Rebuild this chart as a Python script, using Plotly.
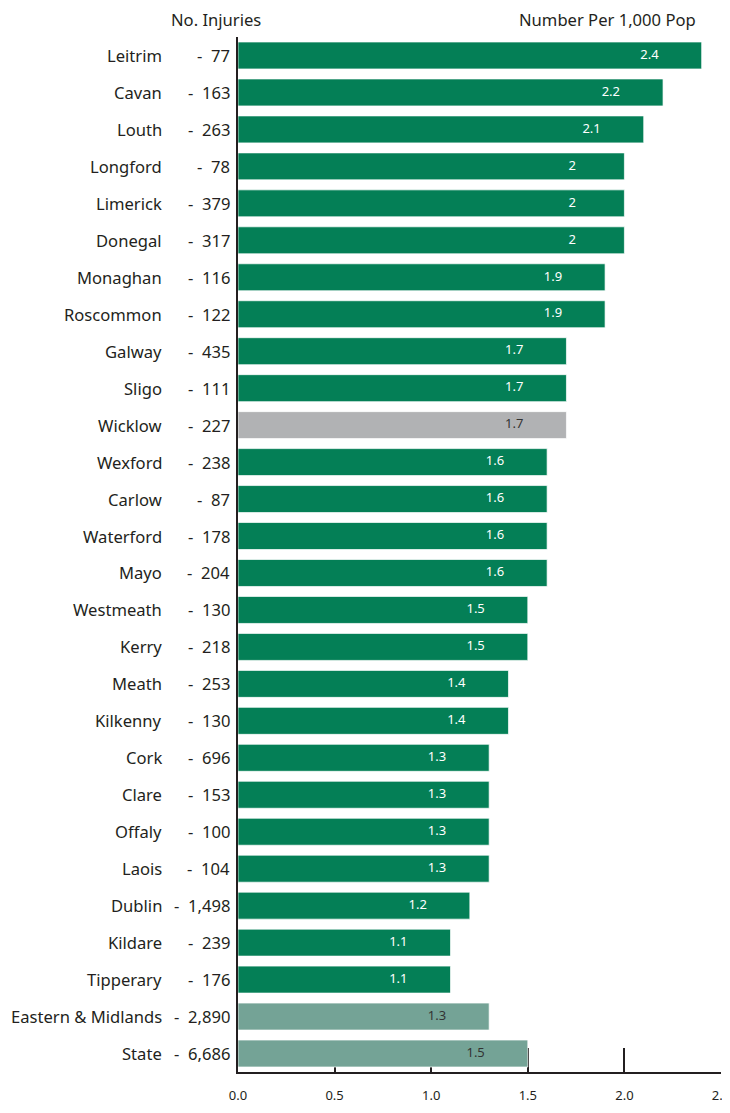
import plotly.graph_objects as go

counties = ["Leitrim", "Cavan", "Louth", "Longford", "Limerick", "Donegal", "Monaghan",
            "Roscommon", "Galway", "Sligo", "Wicklow", "Wexford", "Carlow", "Waterford",
            "Mayo", "Westmeath", "Kerry", "Meath", "Kilkenny", "Cork", "Clare", "Offaly",
            "Laois", "Dublin", "Kildare", "Tipperary", "Eastern & Midlands", "State"]
injuries = ["77", "163", "263", "78", "379", "317", "116", "122", "435", "111", "227",
            "238", "87", "178", "204", "130", "218", "253", "130", "696", "153", "100",
            "104", "1,498", "239", "176", "2,890", "6,686"]
rate = [2.4, 2.2, 2.1, 2.0, 2.0, 2.0, 1.9, 1.9, 1.7, 1.7, 1.7, 1.6, 1.6, 1.6, 1.6,
        1.5, 1.5, 1.4, 1.4, 1.3, 1.3, 1.3, 1.3, 1.2, 1.1, 1.1, 1.3, 1.5]
rate_labels = ["2.4", "2.2", "2.1", "2", "2", "2", "1.9", "1.9", "1.7", "1.7", "1.7",
               "1.6", "1.6", "1.6", "1.6", "1.5", "1.5", "1.4", "1.4", "1.3", "1.3",
               "1.3", "1.3", "1.2", "1.1", "1.1", "1.3", "1.5"]
x_ticks = [0, 0.5, 1.0, 1.5, 2.0, 2.5]
x_tick_text = ["0.0", "0.5", "1.0", "1.5", "2.0", "2.5"]

GREEN = "#047F56"
GREY = "#B1B2B4"
TEAL = "#74A396"
TXT = "#231F20"
FONT = "Noto Sans"

colors, lab_colors = [], []
for c in counties:
    if c == "Wicklow":
        colors.append(GREY); lab_colors.append("#333333")
    elif c in ("Eastern & Midlands", "State"):
        colors.append(TEAL); lab_colors.append("#333333")
    else:
        colors.append(GREEN); lab_colors.append("white")

fig = go.Figure()
fig.add_trace(go.Bar(
    y=counties, x=rate, orientation="h",
    marker=dict(color=colors, line=dict(color="rgba(255,255,255,0.7)", width=1)),
    hoverinfo="skip",
))
fig.add_trace(go.Scatter(
    y=counties, x=[v - 0.27 for v in rate], mode="text",
    text=rate_labels, textposition="middle center",
    textfont=dict(family=FONT, size=13, color=lab_colors),
    hoverinfo="skip",
))

OFF = 8  # page body margin
W, H = 730 - OFF, 1113 - 2 * OFF   # keep page from scrolling
L, R, T = 238 - OFF, 9, 37 - OFF
pw = W - L - R
ph = 1035
B = H - T - ph

def px_x(p):  # page pixel -> paper x
    return (p - OFF - L) / pw

def px_y(p):  # page pixel -> paper y
    return 1 - (p - OFF - T) / ph

ann = []
for c, n in zip(counties, injuries):
    ann.append(dict(x=px_x(164), xref="paper", y=c, yref="y", text=c,
                    xanchor="right", yanchor="middle", showarrow=False,
                    font=dict(family=FONT, size=16.6, color=TXT)))
    ann.append(dict(x=px_x(232), xref="paper", y=c, yref="y", text="-  " + n,
                    xanchor="right", yanchor="middle", showarrow=False,
                    font=dict(family=FONT, size=16.6, color=TXT)))
ann.append(dict(x=px_x(263), xref="paper", y=px_y(19.5), yref="paper",
                text="No. Injuries", xanchor="right", yanchor="middle", showarrow=False,
                font=dict(family=FONT, size=16.6, color=TXT)))
ann.append(dict(x=px_x(698), xref="paper", y=px_y(19.5), yref="paper",
                text="Number Per 1,000 Pop", xanchor="right", yanchor="middle",
                showarrow=False, font=dict(family=FONT, size=16.6, color=TXT)))

fig.update_layout(
    width=W, height=H,
    margin=dict(l=L, r=R, t=T, b=B, autoexpand=False),
    paper_bgcolor="white", plot_bgcolor="white",
    showlegend=False, bargap=0.27,
    annotations=ann,
    font=dict(family=FONT, color=TXT),
    xaxis=dict(range=[0, 2.5], tickvals=x_ticks, ticktext=x_tick_text,
               showgrid=False, zeroline=False, showline=True, linecolor="#231F20",
               linewidth=2, ticks="inside", ticklen=24, tickwidth=2,
               tickcolor="#231F20", layer="below traces", automargin=False,
               ticklabeloverflow="allow",
               tickfont=dict(family=FONT, size=13, color=TXT), ticklabelstandoff=10),
    yaxis=dict(range=[27.5, -0.5], showticklabels=False, showgrid=False,
               zeroline=False, showline=True, linecolor="#231F20", linewidth=2,
               ticks="", layer="below traces", automargin=False),
)

fig.write_html("out.html")
